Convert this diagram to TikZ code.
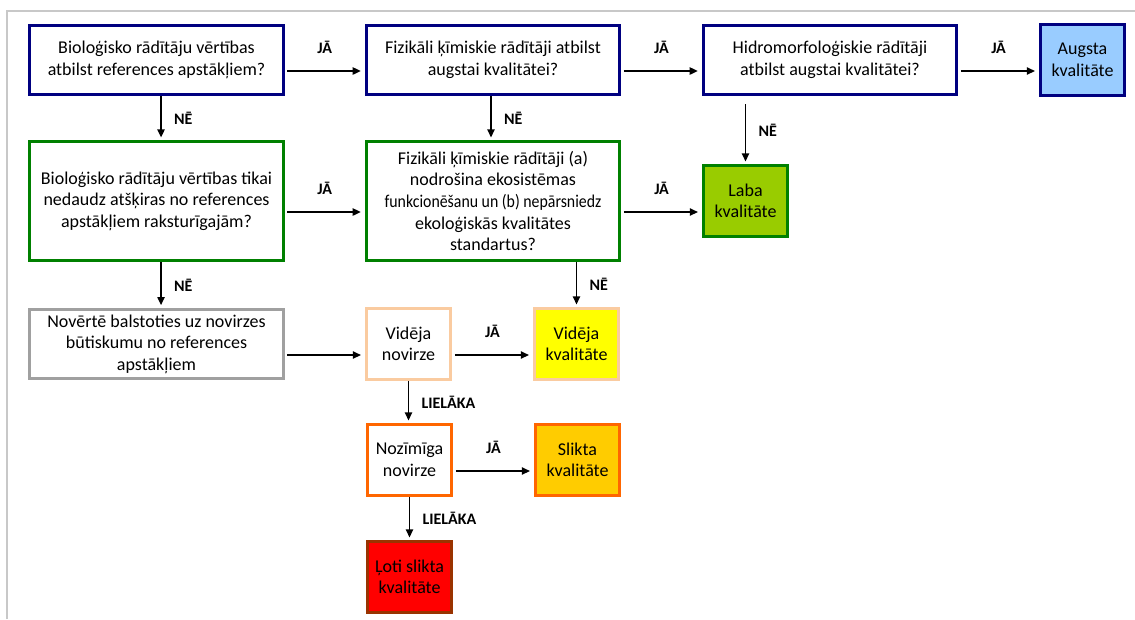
\documentclass[tikz,border=0pt]{standalone}
\usepackage{fontspec}
\setmainfont{Carlito}
\usetikzlibrary{arrows.meta}
\definecolor{navyb}{RGB}{0,0,128}
\definecolor{greenb}{RGB}{0,128,0}
\definecolor{grayb}{RGB}{160,160,160}
\definecolor{peachb}{RGB}{250,203,160}
\definecolor{orangeb}{RGB}{255,102,0}
\definecolor{brownb}{RGB}{153,51,0}
\definecolor{bluef}{RGB}{153,204,255}
\definecolor{limef}{RGB}{153,204,0}
\definecolor{yellowf}{RGB}{255,255,0}
\definecolor{goldf}{RGB}{255,204,0}
\definecolor{redf}{RGB}{255,0,0}
\definecolor{frameg}{RGB}{200,200,200}
\begin{document}
\begin{tikzpicture}[x=0.75pt,y=-0.75pt,
  box/.style={draw=#1, line width=2.4pt, align=center, inner sep=1pt,
    font=\fontsize{13.5}{16.2}\selectfont, text=black},
  wide/.style={box=#1, minimum width=190pt, minimum height=52pt},
  tall/.style={box=#1, minimum width=190pt, minimum height=89pt},
  small/.style={box=#1, minimum width=63pt, minimum height=53pt},
  conn/.style={-{Triangle[length=6pt,width=5.5pt]}, line width=1pt, black},
  lbl/.style={font=\fontsize{12}{14}\selectfont\bfseries, text=black}]
\useasboundingbox (0,0) rectangle (1135,619);
\draw[frameg, line width=1.3pt] (7,619) -- (7,11) -- (1135,11);

\node[wide=navyb] (b1) at (156.5,60) {Bioloģisko rādītāju vērtības\\atbilst references apstākļiem?};
\node[wide=navyb] (b2) at (493,60) {Fizikāli ķīmiskie rādītāji atbilst\\augstai kvalitātei?};
\node[wide=navyb] (b3) at (830,60) {Hidromorfoloģiskie rādītāji\\atbilst augstai kvalitātei?};
\node[small=navyb, fill=bluef] (b4) at (1082.5,60) {Augsta\\kvalitāte};

\node[tall=greenb] (b5) at (156.5,201) {Bioloģisko rādītāju vērtības tikai\\nedaudz atšķiras no references\\apstākļiem raksturīgajām?};
\node[tall=greenb] (b6) at (493,201) {Fizikāli ķīmiskie rādītāji (a)\\nodrošina ekosistēmas\\\scalebox{0.88}[1]{funkcionēšanu un (b) nepārsniedz}\\ekoloģiskās kvalitātes\\standartus?};
\node[small=greenb, fill=limef] (b7) at (745.5,201) {Laba\\kvalitāte};

\node[wide=grayb] (b8) at (156.5,344) {Novērtē balstoties uz novirzes\\būtiskumu no references\\apstākļiem};
\node[small=peachb] (b9) at (408.5,344) {Vidēja\\novirze};
\node[small=peachb, fill=yellowf] (b10) at (576.5,344) {Vidēja\\kvalitāte};

\node[small=orangeb] (b11) at (409.5,460) {Nozīmīga\\novirze};
\node[small=orangeb, fill=goldf] (b12) at (577.5,460) {Slikta\\kvalitāte};

\node[small=brownb, fill=redf] (b13) at (409.5,577) {Ļoti slikta\\kvalitāte};

% horizontal arrows
\draw[conn, shorten <=2pt, shorten >=3pt] ([yshift=-8.25pt]b1.east) -- node[lbl, above=9pt]{JĀ} ([yshift=-8.25pt]b2.west);
\draw[conn, shorten <=2pt, shorten >=3pt] ([yshift=-8.25pt]b2.east) -- node[lbl, above=9pt]{JĀ} ([yshift=-8.25pt]b3.west);
\draw[conn, shorten <=2pt, shorten >=3pt] ([yshift=-8.25pt]b3.east) -- node[lbl, above=9pt]{JĀ} ([yshift=-8.25pt]b4.west);
\draw[conn, shorten <=2pt, shorten >=3pt] ([yshift=-8.25pt]b5.east) -- node[lbl, above=9pt]{JĀ} ([yshift=-8.25pt]b6.west);
\draw[conn, shorten <=2pt, shorten >=3pt] ([yshift=-8.25pt]b6.east) -- node[lbl, above=9pt]{JĀ} ([yshift=-8.25pt]b7.west);
\draw[conn, shorten <=2pt, shorten >=3pt] ([yshift=-8.25pt]b8.east) -- ([yshift=-8.25pt]b9.west);
\draw[conn, shorten <=2pt, shorten >=3pt] ([yshift=-8.25pt]b9.east) -- node[lbl, above=9pt]{JĀ} ([yshift=-8.25pt]b10.west);
\draw[conn, shorten <=2pt, shorten >=3pt] ([yshift=-8.25pt]b11.east) -- node[lbl, above=9pt]{JĀ} ([yshift=-8.25pt]b12.west);

% vertical arrows
\draw[conn, shorten >=2pt] ([xshift=3.4pt]b1.south) -- node[lbl, right=6pt]{NĒ} ([xshift=3.4pt]b5.north);
\draw[conn, shorten >=2pt] ([xshift=-1.5pt]b2.south) -- node[lbl, right=6pt]{NĒ} ([xshift=-1.5pt]b6.north);
\draw[conn, shorten <=6pt, shorten >=2pt] (b3.south -| b7.north) -- node[lbl, right=6pt]{NĒ} (b7.north);
\draw[conn, shorten >=2pt] ([xshift=3.4pt]b5.south) -- node[lbl, right=6pt]{NĒ} ([xshift=3.4pt]b8.north);
\draw[conn, shorten >=2pt] (b6.south -| b10.north) -- node[lbl, right=6pt]{NĒ} (b10.north);
\draw[conn, shorten >=2pt] (b9.south) -- node[lbl, right=6pt]{LIELĀKA} (b9.south |- b11.north);
\draw[conn, shorten >=2pt] (b11.south) -- node[lbl, right=6pt]{LIELĀKA} (b13.north);
\end{tikzpicture}
\end{document}
